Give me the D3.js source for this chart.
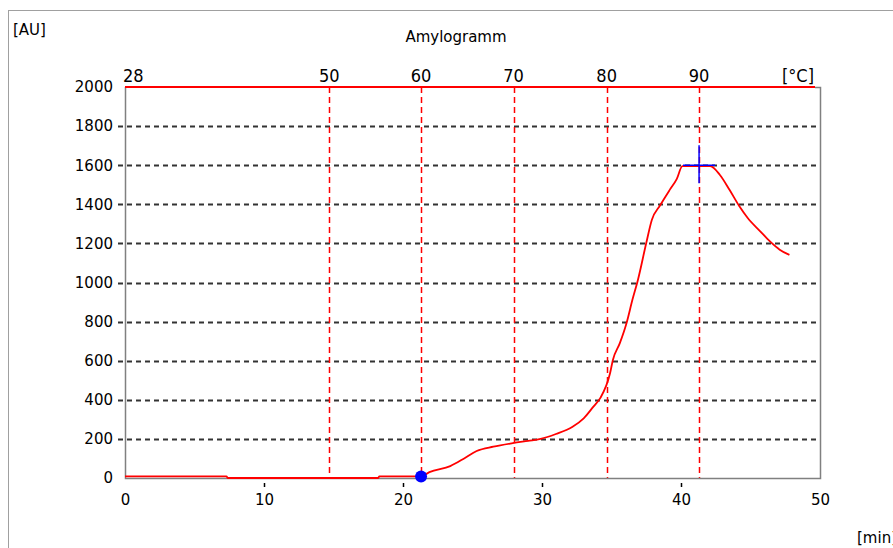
<!DOCTYPE html>
<html>
<head>
<meta charset="utf-8">
<script src="https://cdn.jsdelivr.net/npm/d3@7"></script>
<style>
  body { margin: 0; background: #fff; }
  text { font-family: "DejaVu Sans", sans-serif; fill: #000; }
</style>
</head>
<body>
<div id="chart"></div>
<script>
// viscosity curve [min, AU]
var curveTime = [0, 7.3, 7.4, 18.2, 18.3, 21.3, 21.9, 23.4, 24.4, 25.3, 26.5, 27.9, 29.0, 29.9, 31.0, 32.2, 33.0, 33.7, 34.2, 34.9, 35.1, 35.6, 36.1, 36.5, 36.9, 37.5, 37.9, 38.5, 39.2, 39.7, 40.1, 42.1, 42.8, 43.5, 44.2, 44.8, 45.7, 46.4, 47.1, 47.8];
var curveAU = [8, 8, 0, 0, 8, 8, 30, 61, 100, 138, 160, 178, 190, 200, 225, 262, 305, 365, 410, 537, 604, 690, 797, 910, 1013, 1202, 1320, 1395, 1475, 1530, 1595, 1595, 1550, 1473, 1390, 1330, 1262, 1210, 1168, 1141];

// temperature axis (top) with time positions
var tempLabels = [28, 50, 60, 70, 80, 90];
var tempTimes = [0, 14.7, 21.3, 27.95, 34.65, 41.3];

var timeTicks = [0, 10, 20, 30, 40, 50];
var auTicks = [0, 200, 400, 600, 800, 1000, 1200, 1400, 1600, 1800, 2000];

// markers
var startPoint = { t: 21.3, v: 8 };
var peakPoint = { t: 41.3, v: 1600 };

var W = 893, H = 548;
var margin = { top: 87, right: 73, bottom: 70, left: 125 },
    width = W - margin.left - margin.right,
    height = H - margin.top - margin.bottom;

var svg = d3.select("#chart")
    .append("svg")
    .attr("width", W)
    .attr("height", H);

// outer frame
svg.append("rect")
    .attr("x", 8.5).attr("y", 10.5)
    .attr("width", 900).attr("height", 600)
    .attr("fill", "none")
    .attr("stroke", "#a0a0a0");

var g = svg.append("g")
    .attr("transform", "translate(" + margin.left + "," + margin.top + ")");

var x = d3.scaleLinear().domain([0, 50]).range([0, width]);
var y = d3.scaleLinear().domain([0, 2000]).range([height, 0]);

// horizontal dashed grid
g.append("g")
    .selectAll("line")
    .data(auTicks.filter(function (d) { return d > 0 && d < 2000; }))
    .enter()
    .append("line")
    .attr("x1", -7).attr("x2", width)
    .attr("y1", function (d) { return Math.round(y(d)) + 0.5; })
    .attr("y2", function (d) { return Math.round(y(d)) + 0.5; })
    .attr("stroke", "#333")
    .attr("stroke-width", 2)
    .attr("stroke-dasharray", "5,4");

// temperature dashed verticals
g.append("g")
    .selectAll("line")
    .data(tempTimes.slice(1))
    .enter()
    .append("line")
    .attr("x1", function (d) { return Math.round(x(d)) + 0.5; })
    .attr("x2", function (d) { return Math.round(x(d)) + 0.5; })
    .attr("y1", 0).attr("y2", height)
    .attr("stroke", "#ff0000")
    .attr("stroke-width", 1.5)
    .attr("stroke-dasharray", "6,4");

// frame: left, bottom, right gray; top red
g.append("path")
    .attr("d", "M" + (width - 5) + ",0.5H" + (width + 0.5) + "V" + (height + 0.5) + "H0.5V0")
    .attr("fill", "none")
    .attr("stroke", "#808080")
    .attr("stroke-width", 1.5);
g.append("line")
    .attr("x1", 0).attr("x2", width - 5)
    .attr("y1", 0).attr("y2", 0)
    .attr("stroke", "#ff0000")
    .attr("stroke-width", 2);

// Y axis labels
var yAxis = d3.axisLeft(y).tickValues(auTicks).tickFormat(d3.format("d")).tickSize(0).tickPadding(12);
var ya = g.append("g").call(yAxis);
ya.select(".domain").remove();
ya.selectAll("text")
    .style("font-size", "15px")
    .style("font-family", "'DejaVu Sans', sans-serif")
    .attr("fill", "#000");

// X axis labels with small ticks
var xAxis = d3.axisBottom(x).tickValues(timeTicks).tickSize(0).tickPadding(16);
var xa = g.append("g").attr("transform", "translate(0," + height + ")").call(xAxis);
xa.select(".domain").remove();
xa.selectAll("text")
    .style("font-size", "15px")
    .style("font-family", "'DejaVu Sans', sans-serif")
    .attr("fill", "#000");
g.append("g")
    .selectAll("line")
    .data(timeTicks.filter(function (d) { return d > 0 && d < 50; }))
    .enter()
    .append("line")
    .attr("x1", function (d) { return Math.round(x(d)) + 0.5; })
    .attr("x2", function (d) { return Math.round(x(d)) + 0.5; })
    .attr("y1", height + 5).attr("y2", height + 9)
    .attr("stroke", "#000")
    .attr("stroke-width", 1.5);

// top temperature labels
g.append("g")
    .selectAll("text")
    .data(tempLabels)
    .enter()
    .append("text")
    .attr("x", function (d, i) { return i === 0 ? x(tempTimes[i]) - 2 : x(tempTimes[i]); })
    .attr("y", -5)
    .attr("text-anchor", function (d, i) { return i === 0 ? "start" : "middle"; })
    .style("font-size", "18px")
    .style("font-family", "'DejaVu Sans Condensed', 'Liberation Sans Narrow', sans-serif")
    .text(function (d) { return d; });
g.append("text")
    .attr("x", width - 6).attr("y", -5)
    .attr("text-anchor", "end")
    .style("font-size", "18px")
    .style("font-family", "'DejaVu Sans Condensed', 'Liberation Sans Narrow', sans-serif")
    .text("[°C]");

// curve
var line = d3.line()
    .x(function (d) { return x(d[0]); })
    .y(function (d) { return y(d[1]); })
    .curve(d3.curveMonotoneX);
g.append("path")
    .datum(d3.zip(curveTime, curveAU))
    .attr("d", line)
    .attr("fill", "none")
    .attr("stroke", "#ff0000")
    .attr("stroke-width", 1.8);

// start marker
g.append("circle")
    .attr("cx", x(startPoint.t))
    .attr("cy", y(startPoint.v))
    .attr("r", 6)
    .attr("fill", "#0000ff");

// peak marker cross
var px = x(peakPoint.t), py = y(peakPoint.v);
g.append("line")
    .attr("x1", px - 16).attr("x2", px + 16)
    .attr("y1", py).attr("y2", py)
    .attr("stroke", "#0000ff").attr("stroke-width", 1.5);
g.append("line")
    .attr("x1", px).attr("x2", px)
    .attr("y1", py - 20).attr("y2", py + 18)
    .attr("stroke", "#0000ff").attr("stroke-width", 1.5);

// titles
svg.append("text")
    .attr("x", 456).attr("y", 42)
    .attr("text-anchor", "middle")
    .style("font-size", "15px")
    .text("Amylogramm");
svg.append("text")
    .attr("x", 13).attr("y", 35)
    .style("font-size", "15px")
    .text("[AU]");
svg.append("text")
    .attr("x", 857).attr("y", 543)
    .style("font-size", "15px")
    .text("[min]");
</script>
</body>
</html>
